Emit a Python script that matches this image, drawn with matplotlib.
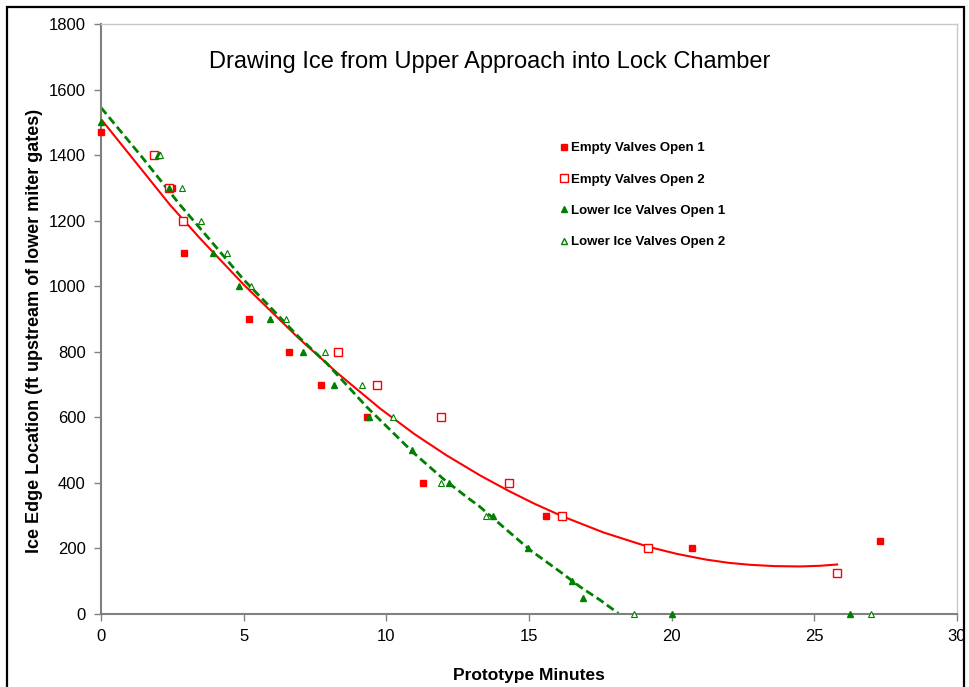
#!/usr/bin/env python3
"""
Ice edge location vs prototype minutes, drawing ice into the lock chamber
"""

import matplotlib
matplotlib.use('Agg')
import matplotlib.pyplot as plt
from matplotlib.lines import Line2D
from matplotlib.patches import Rectangle

plt.rcParams['font.family'] = ['Liberation Sans', 'DejaVu Sans']

# Empty valves, run 1 (filled squares)
ev1_x = [0.0, 1.96, 2.48, 2.9, 5.2, 6.59, 7.70, 9.31, 11.3, 15.6, 20.7, 27.3]
ev1_y = [1470, 1400, 1300, 1100, 900, 800, 700, 600, 400, 300, 200, 223]

# Empty valves, run 2 (open squares)
ev2_x = [1.85, 2.37, 2.88, 8.31, 9.67, 11.9, 14.3, 16.17, 19.18, 25.8]
ev2_y = [1400, 1300, 1200, 800, 700, 600, 400, 300, 200, 125]

# Lower ice valves, run 1 (filled triangles)
li1_x = [0.0, 2.0, 2.4, 3.94, 4.82, 5.92, 7.08, 8.17, 9.40, 10.91, 12.2,
         13.75, 14.97, 16.5, 16.9, 20.0, 26.26]
li1_y = [1500, 1400, 1300, 1100, 1000, 900, 800, 700, 600, 500, 400,
         300, 200, 100, 50, 0, 0]

# Lower ice valves, run 2 (open triangles)
li2_x = [2.07, 2.84, 3.5, 4.4, 5.27, 6.48, 7.85, 9.16, 10.23, 11.9, 13.5,
         18.68, 26.99]
li2_y = [1400, 1300, 1200, 1100, 1000, 900, 800, 700, 600, 400, 300, 0, 0]

# Trend curves
ev_fit_x = [0.0, 2.42, 3.47, 5.0, 6.92, 8.3, 9.78, 11.0, 12.11, 13.3,
            14.3, 15.2, 16.17, 17.6, 19.18, 20.2, 21.2, 22.0, 22.75, 23.6,
            24.5, 25.2, 25.8]
ev_fit_y = [1510, 1248, 1146, 1005, 842, 734, 627, 548, 484, 422,
            375, 336, 298, 249, 205, 183, 166, 156, 150, 146,
            145, 147, 151]

li_fit_x = [0.0, 1.4, 2.77, 3.53, 5.0, 5.69, 6.92, 7.91, 9.31, 9.78, 10.95,
            12.0, 12.8, 13.28, 14.2, 15.04, 16.09, 16.79, 17.5, 18.13]
li_fit_y = [1545, 1398, 1248, 1171, 1020, 958, 846, 765, 632, 592, 492,
            412, 358, 327, 258, 195, 129, 83, 42, 2]

RED = '#ff0000'
GREEN = '#008000'


def main():
    fig = plt.figure(figsize=(9.69, 6.87), dpi=100)
    ax = fig.add_axes([0.1042, 0.1063, 0.8834, 0.8588])

    ax.plot(ev_fit_x, ev_fit_y, '-', color=RED, linewidth=1.5, zorder=2)
    ax.plot(li_fit_x, li_fit_y, color=GREEN, linewidth=2.0,
            dashes=(3, 1.5), zorder=2)

    ax.plot(ev1_x, ev1_y, 's', color=RED, markersize=4.8, linestyle='none',
            zorder=3, clip_on=False)
    ax.plot(ev2_x, ev2_y, 's', markerfacecolor='white', markeredgecolor=RED,
            markeredgewidth=1.0, markersize=5.2, linestyle='none', zorder=3,
            clip_on=False)
    ax.plot(li1_x, li1_y, '^', color=GREEN, markersize=4.8, linestyle='none',
            zorder=3, clip_on=False)
    ax.plot(li2_x, li2_y, '^', markerfacecolor='white', markeredgecolor=GREEN,
            markeredgewidth=0.8, markersize=4.8, linestyle='none', zorder=3,
            clip_on=False)

    ax.set_xlim(0, 30)
    ax.set_ylim(0, 1800)
    ax.set_xticks(range(0, 31, 5))
    ax.set_yticks(range(0, 1801, 200))
    ax.tick_params(axis='both', direction='out', length=5, width=1,
                   color='#808080', labelsize=12, pad=6)

    for side in ['left', 'bottom']:
        ax.spines[side].set_color('#808080')
        ax.spines[side].set_linewidth(1.5)
    for side in ['top', 'right']:
        ax.spines[side].set_color('#c8c8c8')
        ax.spines[side].set_linewidth(1.0)

    ax.set_xlabel('Prototype Minutes', fontsize=12.5, fontweight='bold',
                  labelpad=17)
    ax.set_ylabel('Ice Edge Location (ft upstream of lower miter gates)',
                  fontsize=13, fontweight='bold')
    ax.yaxis.set_label_coords(-0.068, 0.48)

    ax.text(0.454, 0.936, 'Drawing Ice from Upper Approach into Lock Chamber',
            transform=ax.transAxes, ha='center', va='center', fontsize=17)

    handles = [
        Line2D([], [], marker='s', color=RED, markersize=4.8, linestyle='none'),
        Line2D([], [], marker='s', markerfacecolor='white', markeredgecolor=RED,
               markersize=5.2, linestyle='none'),
        Line2D([], [], marker='^', color=GREEN, markersize=4.8, linestyle='none'),
        Line2D([], [], marker='^', markerfacecolor='white',
               markeredgecolor=GREEN, markersize=4.8, linestyle='none'),
    ]
    labels = ['Empty Valves Open 1', 'Empty Valves Open 2',
              'Lower Ice Valves Open 1', 'Lower Ice Valves Open 2']
    ax.legend(handles, labels, loc='upper left',
              bbox_to_anchor=(0.531, 0.809), frameon=False,
              prop={'size': 9.5, 'weight': 'bold'}, handlelength=0.5,
              handletextpad=0.3, labelspacing=1.45, borderaxespad=0)

    # outer chart border
    fig.patches.append(Rectangle((7 / 969, -0.02), 957 / 969, 1 - 7 / 687 + 0.02,
                                 transform=fig.transFigure, fill=False,
                                 edgecolor='black', linewidth=1.6))

    fig.savefig('out.png', dpi=100)
    plt.close(fig)


if __name__ == '__main__':
    main()
